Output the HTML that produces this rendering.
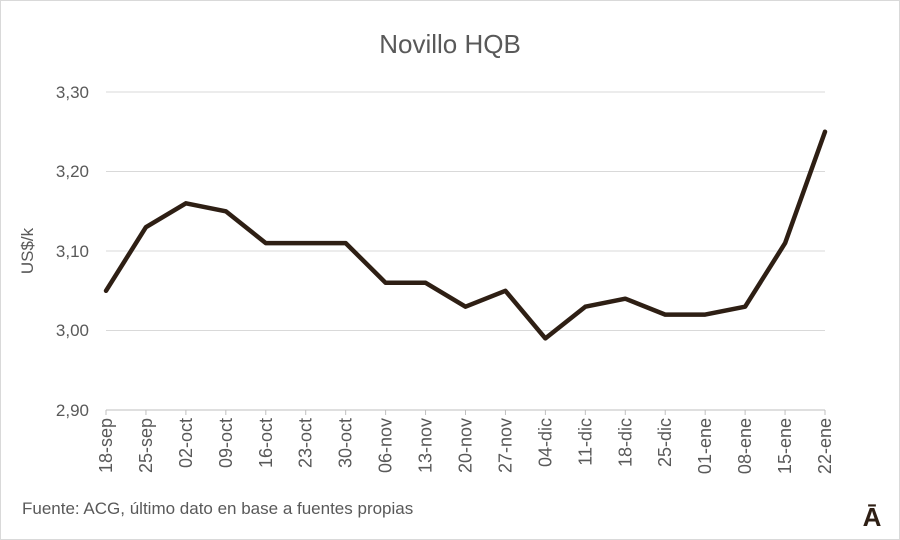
<!DOCTYPE html>
<html><head><meta charset="utf-8"><style>
html,body{margin:0;padding:0;background:#fff}
svg{display:block}
text{font-family:"Liberation Sans",sans-serif;fill:#595959}
</style></head><body>
<svg width="900" height="540" viewBox="0 0 900 540">
<rect x="0.5" y="0.5" width="899" height="539" fill="#fff" stroke="#d9d9d9"/>
<text x="450" y="53" font-size="26" text-anchor="middle">Novillo HQB</text>
<g stroke="#d9d9d9" stroke-width="1">
<line x1="106" y1="92" x2="825" y2="92"/>
<line x1="106" y1="171.5" x2="825" y2="171.5"/>
<line x1="106" y1="251" x2="825" y2="251"/>
<line x1="106" y1="330.5" x2="825" y2="330.5"/>
</g>
<line x1="106" y1="410" x2="825" y2="410" stroke="#bfbfbf"/>
<g stroke="#bfbfbf" id="ticks"></g>
<g font-size="17" text-anchor="end">
<text x="89" y="98">3,30</text>
<text x="89" y="177">3,20</text>
<text x="89" y="257">3,10</text>
<text x="89" y="336">3,00</text>
<text x="89" y="416">2,90</text>
</g>
<text transform="translate(33,251) rotate(-90)" font-size="17" text-anchor="middle">US$/k</text>
<g id="xl" font-size="18" text-anchor="end"></g>
<polyline id="ln" fill="none" stroke="#2e1f14" stroke-width="4.5" stroke-linejoin="round" stroke-linecap="round"/>
<text x="22" y="514" font-size="17">Fuente: ACG, último dato en base a fuentes propias</text>
<text x="872" y="526" font-size="26" font-weight="bold" text-anchor="middle" style="fill:#2e1f14">Ā</text>
</svg>
<script>
var labs=["18-sep","25-sep","02-oct","09-oct","16-oct","23-oct","30-oct","06-nov","13-nov","20-nov","27-nov","04-dic","11-dic","18-dic","25-dic","01-ene","08-ene","15-ene","22-ene"];
var v=[3.05,3.13,3.16,3.15,3.11,3.11,3.11,3.06,3.06,3.03,3.05,2.99,3.03,3.04,3.02,3.02,3.03,3.11,3.25];
var ns="http://www.w3.org/2000/svg",pts=[],xl=document.getElementById("xl"),tk=document.getElementById("ticks");
for(var i=0;i<19;i++){var x=106+i*719/18;var y=410-(v[i]-2.9)*795;pts.push(x.toFixed(1)+","+y.toFixed(1));
var t=document.createElementNS(ns,"text");t.setAttribute("transform","translate("+(x+6)+",418) rotate(-90)");t.textContent=labs[i];xl.appendChild(t);
var l=document.createElementNS(ns,"line");l.setAttribute("x1",x);l.setAttribute("x2",x);l.setAttribute("y1",410);l.setAttribute("y2",415);tk.appendChild(l);}
document.getElementById("ln").setAttribute("points",pts.join(" "));
</script>
</body></html>
